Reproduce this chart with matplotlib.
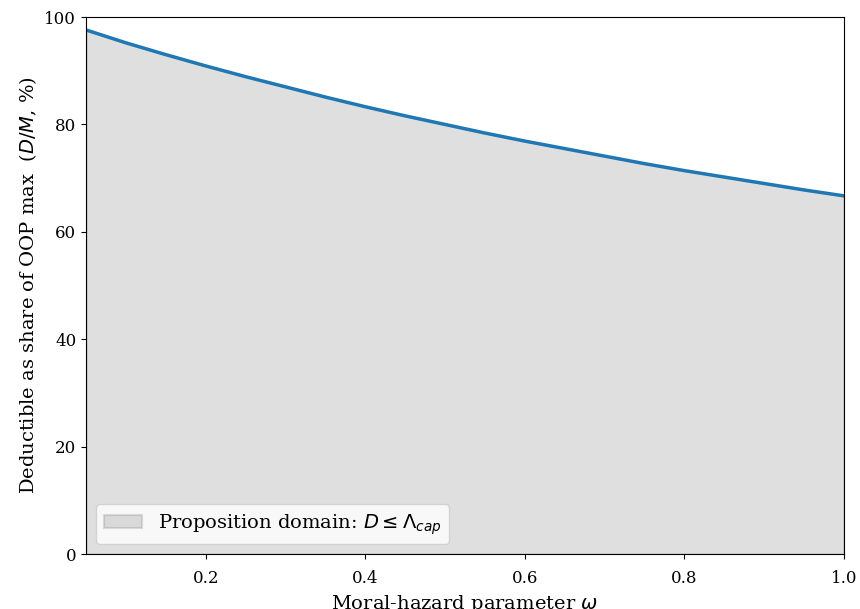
import matplotlib
matplotlib.use("Agg")
import matplotlib.pyplot as plt

# values
omega = [0.05, 0.10, 0.15, 0.20, 0.25, 0.30, 0.35, 0.40, 0.45, 0.50,
         0.55, 0.60, 0.65, 0.70, 0.75, 0.80, 0.85, 0.90, 0.95, 1.00]
share_pct = [97.6, 95.2, 93.0, 90.9, 88.9, 87.0, 85.1, 83.3, 81.6, 80.0,
             78.4, 76.9, 75.5, 74.1, 72.7, 71.4, 70.2, 69.0, 67.8, 66.7]
yticks = [0, 20, 40, 60, 80, 100]
xticks = [0.2, 0.4, 0.6, 0.8, 1.0]

plt.rcParams["font.family"] = "DejaVu Serif"
plt.rcParams["mathtext.fontset"] = "dejavusans"

fig, ax = plt.subplots(figsize=(8.6, 6.09), dpi=100)
fig.subplots_adjust(left=0.1, right=0.9814, top=0.972, bottom=0.0903)

ax.fill_between(omega, 0, share_pct, facecolor="gray", edgecolor="gray",
                linewidth=1.5, alpha=0.25,
                label=r"Proposition domain: $D \leq \Lambda_{cap}$")
ax.plot(omega, share_pct, color="tab:blue", lw=2.5)

ax.set_xlim(omega[0], omega[-1])
ax.set_ylim(0, 100)
ax.set_xticks(xticks)
ax.set_yticks(yticks)
ax.tick_params(labelsize=12)
ax.tick_params(axis="x", pad=8)

ax.set_xlabel(r"Moral-hazard parameter $\omega$", fontsize=14)
ax.set_ylabel(r"Deductible as share of OOP max  ($D/M$, %)", fontsize=14)
ax.legend(loc="lower left", fontsize=14)

plt.savefig("out.png", dpi=100)
plt.close()
